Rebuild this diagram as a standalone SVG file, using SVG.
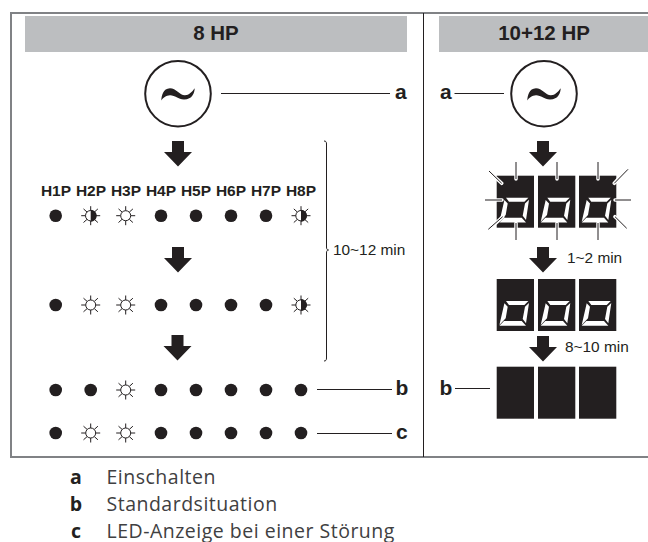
<svg xmlns="http://www.w3.org/2000/svg" width="648" height="542" viewBox="0 0 648 542">
<style>
text{font-family:"Liberation Sans",Arial,sans-serif;fill:#231f20}
.t{font-size:20.500px;font-weight:bold;text-anchor:middle}
.k{font-size:21px;font-weight:bold}
.h{font-size:15.500px;font-weight:bold;text-anchor:middle}
.m{font-size:15.400px}
.l{font-family:"Open Sans","Noto Sans",sans-serif;font-size:19.500px;letter-spacing:.5px;fill:#404041}
.lb{font-family:"Open Sans","Noto Sans",sans-serif;font-size:19.500px;font-weight:bold;text-anchor:middle}
.ln{stroke:#231f20;stroke-width:1;fill:none}
.ray{stroke:#231f20;stroke-width:1;fill:none}
.halo{stroke:#fff;stroke-width:3.500;stroke-linecap:round;fill:none}
.d{fill:#231f20}
</style>
<defs>
<circle id="on" r="6.300" class="d"/>
<path id="rays" class="ray" d="M0-9.500V-5M0 9.500V5M-9.500 0H-5M9.500 0H5M-7.200-6.800L-3.600-3.600M7.200-6.800L3.600-3.600M-7.200 6.800L-3.600 3.600M7.200 6.800L3.600 3.600"/>
<g id="sun"><use href="#rays"/><circle r="5" fill="#fff" stroke="#231f20" stroke-width="1"/></g>
<g id="half"><use href="#rays"/><circle r="5.200" fill="#fff" stroke="#231f20" stroke-width="1"/><path class="d" d="M0-6A6 6 0 0 1 0 6Z"/></g>
<path id="arrow" class="d" d="M-6 0H6V11H14L0 25.500L-14 11H-6Z"/>
<g id="dig"><rect width="37.300" height="52" class="d"/><path fill="#fff" d="M9.300 22H31.700L27.700 26H12.300ZM7.700 24.300L11 27.700L9 39.300L2.700 46ZM32.300 24L28.300 27.700L26 40L29.300 44.300ZM7.300 42H25L29.300 46.700H2.700Z"/></g>
<path id="tilde" class="d" d="M-16.700 6.500C-16.500 2-15-5.500-8-5.700C-2-5.700 2 1.500 7 1.300C11 1.200 14-2 16.700-5.700C16.500-1 14.500 5.500 6 5.500C0 5.500-3 1.200-8 1.300C-12 1.400-15 4-16.700 6.500Z"/>
</defs>
<g id="frame">
<path d="M10 13H648M10 457H648M11 12V458" stroke="#808285" stroke-width="2" fill="none"/>
<path class="ln" d="M423.500 13V457"/>
</g>
<g id="header-8hp"><rect x="25" y="16" width="382" height="36" fill="#bcbec0"/><text class="t" x="216" y="40">8 HP</text></g>
<g id="header-1012hp"><rect x="439" y="16" width="209" height="36" fill="#bcbec0"/><text class="t" x="544" y="40">10+12 HP</text></g>
<g id="connectors">
<path class="ln" d="M221 93.500H390M454.500 93.500H504M317 389.500H392M317 433.500H392M455 388.500H490"/>
<path class="ln" d="M324 141C326 141 326.500 142 326.500 144V247C326.500 249 327 250 328.500 250C327 250 326.500 251 326.500 253V358C326.500 360 326 361 324 361"/>
<use href="#arrow" x="178" y="141"/>
<use href="#arrow" x="178" y="247"/>
<use href="#arrow" x="177.500" y="335"/>
<use href="#arrow" x="543" y="141"/>
<use href="#arrow" x="543" y="247"/>
<use href="#arrow" x="543" y="336"/>
</g>
<g id="power-8hp"><circle cx="178" cy="93.700" r="32.800" fill="#fff" stroke="#231f20" stroke-width="2"/><use href="#tilde" x="178" y="94"/></g>
<g id="power-1012hp"><circle cx="544" cy="93.700" r="32.800" fill="#fff" stroke="#231f20" stroke-width="2"/><use href="#tilde" x="544" y="94"/></g>
<g id="label-a"><text class="k" x="395" y="99">a</text><text class="k" x="440" y="99">a</text></g>
<g id="labels-leds">
<text class="h" x="56" y="196">H1P</text><text class="h" x="91" y="196">H2P</text><text class="h" x="126" y="196">H3P</text><text class="h" x="161" y="196">H4P</text><text class="h" x="196" y="196">H5P</text><text class="h" x="231" y="196">H6P</text><text class="h" x="266" y="196">H7P</text><text class="h" x="301" y="196">H8P</text>
</g>
<g id="row-1">
<use href="#on" x="55.700" y="215.700"/><use href="#half" x="90.700" y="215.700"/><use href="#sun" x="125.700" y="215.700"/><use href="#on" x="161" y="215.700"/><use href="#on" x="196" y="215.700"/><use href="#on" x="231" y="215.700"/><use href="#on" x="266" y="215.700"/><use href="#half" x="301" y="215.700"/>
</g>
<g id="row-2">
<use href="#on" x="55.700" y="305"/><use href="#sun" x="90.700" y="305"/><use href="#sun" x="125.700" y="305"/><use href="#on" x="161" y="305"/><use href="#on" x="196" y="305"/><use href="#on" x="231" y="305"/><use href="#on" x="266" y="305"/><use href="#half" x="301" y="305"/>
</g>
<g id="row-3">
<use href="#on" x="55.700" y="390"/><use href="#on" x="90.700" y="390"/><use href="#sun" x="125.700" y="390"/><use href="#on" x="161" y="390"/><use href="#on" x="196" y="390"/><use href="#on" x="231" y="390"/><use href="#on" x="266" y="390"/><use href="#on" x="301" y="390"/>
</g>
<g id="row-4">
<use href="#on" x="55.700" y="433"/><use href="#sun" x="90.700" y="433"/><use href="#sun" x="125.700" y="433"/><use href="#on" x="161" y="433"/><use href="#on" x="196" y="433"/><use href="#on" x="231" y="433"/><use href="#on" x="266" y="433"/><use href="#on" x="301" y="433"/>
</g>
<g id="label-b-c"><text class="k" x="395.500" y="395">b</text><text class="k" x="396" y="439">c</text><text class="k" x="439.500" y="395">b</text></g>
<g id="time-labels"><text class="m" x="333" y="255">10~12 min</text><text class="m" x="567" y="263">1~2 min</text><text class="m" x="565" y="352">8~10 min</text></g>
<g id="display-blink">
<use href="#dig" x="496.700" y="175.700"/><use href="#dig" x="538" y="175.700"/><use href="#dig" x="579" y="175.700"/>
<path class="halo" d="M516 170V179M557 170V179M598 170V179M516 223V232M557 223V232M598 223V232M493 200H502M623 200H615M496 178L501.700 183.300M496 223L502.700 216.700M621 176L614.300 183.300M621 222L615 216.700"/>
<path class="ray" d="M516 162V179M557 162V179M598 162V179M516 223V240M557 223V240M598 223V240M485 200H502M631 200H615M489 171L501.700 183.300M488.300 229.300L502.700 216.700M628 169.300L614.300 183.300M626.700 228.300L615 216.700"/>
</g>
<g id="display-on"><use href="#dig" x="496.700" y="279"/><use href="#dig" x="538" y="279"/><use href="#dig" x="579" y="279"/></g>
<g id="display-off"><rect class="d" x="496.700" y="366.700" width="37.300" height="52"/><rect class="d" x="538" y="366.700" width="37.300" height="52"/><rect class="d" x="579" y="366.700" width="37.300" height="52"/></g>
<g id="legend">
<text class="lb" x="76" y="484">a</text><text class="l" x="106.500" y="484">Einschalten</text>
<text class="lb" x="76" y="511">b</text><text class="l" x="106.500" y="511">Standardsituation</text>
<text class="lb" x="76" y="537.500">c</text><text class="l" x="106.500" y="537.500">LED-Anzeige bei einer Störung</text>
</g>
</svg>
